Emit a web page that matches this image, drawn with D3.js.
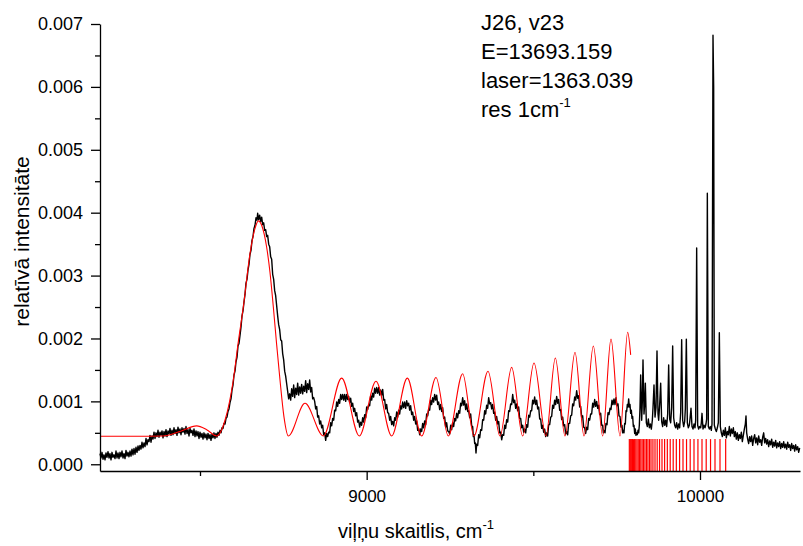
<!DOCTYPE html>
<html><head><meta charset="utf-8">
<script src="https://cdn.jsdelivr.net/npm/d3@7"></script>
<style>
body{margin:0;background:#fff}
text{font-family:"Liberation Sans",Arial,Helvetica,sans-serif;fill:#000}
</style>
</head><body>
<svg id="chart" width="803" height="546"></svg>
<script>
// ---- data (intensity values in units of 1e-5) ----
const xMajorTicks = [9000, 10000];
const xMinorTicks = [8500, 9500];
const yMajorTicks = [0, 0.001, 0.002, 0.003, 0.004, 0.005, 0.006, 0.007];
const yMinorTicks = [0.0005, 0.0015, 0.0025, 0.0035, 0.0045, 0.0055, 0.0065];
const annotationLines = ["J26, v23", "E=13693.159", "laser=1363.039", "res 1cm"];
const xTitle = "viļņu skaitlis, cm";
const yTitle = "relatīvā intensitāte";

// measured spectrum: flat list of wavenumber, intensity(1e-5) pairs
const spectrum = [
8200,17, 8203,10, 8206,19, 8209,8, 8212,15, 8215,7, 8218,18, 8221,11, 8224,20, 8227,10,
8230,17, 8233,7, 8236,19, 8239,11, 8242,15, 8245,9, 8248,21, 8251,10, 8254,18, 8257,9,
8260,19, 8263,12, 8266,21, 8269,10, 8272,17, 8275,9, 8278,22, 8281,13, 8284,19, 8287,12,
8290,21, 8293,13, 8296,24, 8299,15, 8302,25, 8305,16, 8308,27, 8311,19, 8314,29, 8317,22,
8320,30, 8323,24, 8326,35, 8329,26, 8332,34, 8335,28, 8338,41, 8341,31, 8344,39, 8347,36,
8350,46, 8353,35, 8356,45, 8359,40, 8362,51, 8365,41, 8368,50, 8371,44, 8374,54, 8377,43,
8380,51, 8383,46, 8386,53, 8389,42, 8392,52, 8395,45, 8398,55, 8401,44, 8404,53, 8407,48,
8410,57, 8413,46, 8416,54, 8419,47, 8422,58, 8425,49, 8428,55, 8431,46, 8434,59, 8437,50,
8440,56, 8443,47, 8446,58, 8449,51, 8452,57, 8455,48, 8458,60, 8461,49, 8464,55, 8467,45,
8470,57, 8473,50, 8476,54, 8479,46, 8482,56, 8485,44, 8488,53, 8491,45, 8494,52, 8497,41,
8500,51, 8503,43, 8506,49, 8509,40, 8512,50, 8515,42, 8518,48, 8521,39, 8524,49, 8527,41,
8530,47, 8533,38, 8536,48, 8539,42, 8542,50, 8545,41, 8548,49, 8551,43, 8554,51, 8557,46,
8560,54, 8563,50, 8566,58, 8569,57, 8572,65, 8575,64, 8578,73, 8581,75, 8584,84, 8587,88,
8590,98, 8593,104, 8596,118, 8599,126, 8602,142, 8605,148, 8608,163, 8611,170, 8614,188, 8617,192,
8620,205, 8623,218, 8626,236, 8629,244, 8632,258, 8635,270, 8638,288, 8641,294, 8644,309, 8647,318,
8650,334, 8653,340, 8656,356, 8659,362, 8662,375, 8665,380, 8668,392, 8671,388, 8673,399, 8676,389,
8679,396, 8682,386, 8685,393, 8688,381, 8691,384, 8694,372, 8697,373, 8700,362, 8703,364, 8706,350,
8709,346, 8712,330, 8715,326, 8718,302, 8721,294, 8724,276, 8727,268, 8730,252, 8733,236, 8736,222,
8739,214, 8742,198, 8745,196, 8748,176, 8751,166, 8754,148, 8757,140, 8760,128, 8763,116, 8766,104,
8769,112, 8772,102, 8775,120, 8778,108, 8781,126, 8784,106, 8787,121, 8790,111, 8793,129, 8796,110,
8799,123, 8802,113, 8805,127, 8808,112, 8811,124, 8814,116, 8817,133, 8820,114, 8823,128, 8826,119,
8829,134, 8832,115, 8835,122, 8838,104, 8841,106, 8844,100, 8847,88, 8850,92, 8853,75, 8856,77,
8859,64, 8862,69, 8865,58, 8868,62, 8871,47, 8874,50, 8877,38, 8880,49, 8883,44, 8886,51,
8889,50, 8892,66, 8895,61, 8898,73, 8901,70, 8904,86, 8907,85, 8910,99, 8913,92, 8916,103,
8919,97, 8922,111, 8925,103, 8928,111, 8931,102, 8934,111, 8937,100, 8940,111, 8943,103, 8946,108,
8949,98, 8952,105, 8955,92, 8958,97, 8961,84, 8964,89, 8967,77, 8970,82, 8973,67, 8976,70,
8979,59, 8982,67, 8985,62, 8988,74, 8991,67, 8994,79, 8997,74, 9000,91, 9003,87, 9006,95,
9009,93, 9012,109, 9015,102, 9018,113, 9021,107, 9024,121, 9027,113, 9030,122, 9033,113, 9036,122,
9039,110, 9042,118, 9045,110, 9048,119, 9051,102, 9054,103, 9057,88, 9060,95, 9063,82, 9066,81,
9069,70, 9072,76, 9075,63, 9078,68, 9081,61, 9084,74, 9087,70, 9090,83, 9093,75, 9096,86,
9099,80, 9102,93, 9105,88, 9108,99, 9111,90, 9114,99, 9117,89, 9120,101, 9123,93, 9126,97,
9129,86, 9132,93, 9135,79, 9138,83, 9141,70, 9144,76, 9147,64, 9150,69, 9153,54, 9156,57,
9159,47, 9162,56, 9165,52, 9168,65, 9171,58, 9174,69, 9177,63, 9180,80, 9183,77, 9186,87,
9189,86, 9192,102, 9195,95, 9198,106, 9201,99, 9204,111, 9207,102, 9210,110, 9213,95, 9216,99,
9219,87, 9222,95, 9225,84, 9228,90, 9231,73, 9234,75, 9237,59, 9240,66, 9243,53, 9246,52,
9249,48, 9252,62, 9255,55, 9258,66, 9261,60, 9264,73, 9267,69, 9270,81, 9273,74, 9276,85,
9279,81, 9282,97, 9285,93, 9288,106, 9291,94, 9294,101, 9297,87, 9300,96, 9303,84, 9306,85,
9309,74, 9312,80, 9315,61, 9318,60, 9320,44, 9322,47, 9324,33, 9326,34, 9328,18, 9330,32,
9333,30, 9336,47, 9339,42, 9342,55, 9345,54, 9348,71, 9351,70, 9354,85, 9357,80, 9360,94,
9363,89, 9366,106, 9369,96, 9372,98, 9375,88, 9378,95, 9381,81, 9384,83, 9387,70, 9390,76,
9393,64, 9396,68, 9399,50, 9402,51, 9405,39, 9408,47, 9411,46, 9414,62, 9417,57, 9420,71,
9423,67, 9426,85, 9429,84, 9432,96, 9435,95, 9438,111, 9441,98, 9444,102, 9447,89, 9450,96,
9453,85, 9456,91, 9459,73, 9462,73, 9465,58, 9468,62, 9471,51, 9474,56, 9477,50, 9480,63,
9483,59, 9486,78, 9489,75, 9492,85, 9495,85, 9498,102, 9501,96, 9504,107, 9507,95, 9510,102,
9513,88, 9516,91, 9519,72, 9522,72, 9525,57, 9528,62, 9531,51, 9534,56, 9537,44, 9540,50,
9543,45, 9546,63, 9549,63, 9552,75, 9555,76, 9558,94, 9561,89, 9564,102, 9567,95, 9570,108,
9573,97, 9576,103, 9579,86, 9582,87, 9585,71, 9588,75, 9591,61, 9594,63, 9597,48, 9600,52,
9603,47, 9606,65, 9609,65, 9612,77, 9615,78, 9618,96, 9621,93, 9624,107, 9627,102, 9630,117,
9633,105, 9636,109, 9639,91, 9642,92, 9645,75, 9648,77, 9651,59, 9654,58, 9657,49, 9660,59,
9663,55, 9666,73, 9669,70, 9672,80, 9675,80, 9678,97, 9681,91, 9684,103, 9687,92, 9690,100,
9693,89, 9696,94, 9699,79, 9702,81, 9705,62, 9708,62, 9710,50, 9712,54, 9715,50, 9718,65,
9721,63, 9724,82, 9727,79, 9730,89, 9733,87, 9736,102, 9739,95, 9742,104, 9745,95, 9748,106,
9751,93, 9754,96, 9757,77, 9760,76, 9763,59, 9766,62, 9768,50, 9770,54, 9772,50, 9774,65,
9776,64, 9778,85, 9780,84, 9782,95, 9784,91, 9786,104, 9788,91, 9790,95, 9792,81, 9794,86,
9796,73, 9798,76, 9800,60, 9802,62, 9804,49, 9806,56, 9808,46, 9810,50, 9812,47, 9814,54,
9816,50, 9818,62, 9820,90, 9822,142, 9825,70, 9827,100, 9829,166, 9832,80, 9834,95, 9836,129,
9839,66, 9842,60, 9845,72, 9848,58, 9851,64, 9854,56, 9857,70, 9859,90, 9862,126, 9865,75,
9868,90, 9871,180, 9874,80, 9876,70, 9879,95, 9882,129, 9885,68, 9888,60, 9891,74, 9894,62,
9897,70, 9900,60, 9903,80, 9906,158, 9909,72, 9912,66, 9915,90, 9918,188, 9921,74, 9924,62,
9927,58, 9930,66, 9933,56, 9936,64, 9939,58, 9942,82, 9945,198, 9948,70, 9951,60, 9954,68,
9956,88, 9959,199, 9962,66, 9965,58, 9968,62, 9970,72, 9973,89, 9976,60, 9979,56, 9982,64,
9985,58, 9987,70, 9990,344, 9993,62, 9996,56, 9999,60, 10002,58, 10004,66, 10006,81, 10009,56,
10012,62, 10015,58, 10018,64, 10020,72, 10022,431, 10025,60, 10028,56, 10031,60, 10034,54, 10036,64,
10039,682, 10041,600, 10043,62, 10046,56, 10049,52, 10052,58, 10055,66, 10058,209, 10061,60, 10064,50,
10067,44, 10070,54, 10073,46, 10076,58, 10079,42, 10082,52, 10085,47, 10088,60, 10091,45, 10094,56,
10097,49, 10100,58, 10103,44, 10106,52, 10109,40, 10112,50, 10115,38, 10118,47, 10121,41, 10124,51,
10127,36, 10130,46, 10133,56, 10136,64, 10138,77, 10140,50, 10143,40, 10146,33, 10149,44, 10152,36,
10155,45, 10158,30, 10161,41, 10164,47, 10167,34, 10170,42, 10173,31, 10176,45, 10179,35, 10182,39,
10185,30, 10188,43, 10191,50, 10194,34, 10197,41, 10200,32, 10203,39, 10206,28, 10209,37, 10212,31,
10215,40, 10218,27, 10221,35, 10224,29, 10227,38, 10230,26, 10233,34, 10236,28, 10239,36, 10242,25,
10245,33, 10248,27, 10251,36, 10254,26, 10257,32, 10260,24, 10263,35, 10266,27, 10269,31, 10272,22,
10275,33, 10278,25, 10281,30, 10284,21, 10287,31, 10290,23, 10293,28, 10296,19, 10299,26
];

// fitted curve (red): wavenumber / intensity(1e-5)
const fitX = [8200, 8300, 8389, 8440, 8490, 8520, 8550, 8575, 8600, 8615, 8630, 8650, 8665, 8675, 8685,
  8700, 8710, 8720, 8730, 8740, 8752, 8765, 8815, 8870, 8925, 8978, 9028, 9075, 9122, 9165, 9208,
  9245, 9288, 9322, 9364, 9400, 9435, 9468, 9502, 9538, 9566, 9595, 9625, 9652, 9680, 9708, 9733,
  9760, 9783, 9792];
const fitY = [44.5, 44.5, 45, 52, 61, 55, 45, 70, 134, 195, 250, 335, 375, 387, 380,
  345, 305, 250, 190, 134, 75, 45, 97, 45, 137, 45, 132, 45, 137, 45, 138,
  45, 144, 45, 148, 45, 154, 45, 161, 45, 169, 45, 178, 45, 188, 45, 199,
  45, 210, 174];

// calculated line positions (red sticks), top value 1e-5 units
const stickX = [9788, 9791, 9794, 9797.2, 9800.5, 9803.9, 9807.4, 9811, 9814.7, 9818.5, 9822.4, 9826.4,
  9830.5, 9834.8, 9839.2, 9843.7, 9848.3, 9853, 9858.8, 9865, 9871.6, 9878.6, 9886, 9893.8, 9902,
  9910.6, 9919.6, 9929, 9938.8, 9949, 9959.6, 9970.6, 9982, 9993.8, 10006, 10018.6, 10031.6, 10045,
  10060, 10077];
const stickTop = 40;

// ---- drawing ----
const E5 = 1e-5;
const svg = d3.select("#chart");
const x = d3.scaleLinear().domain([8200, 10300]).range([100, 800]);
const y = d3.scaleLinear().domain([-0.000107, 0.007]).range([471, 24]);

const specPts = d3.range(0, spectrum.length, 2).map(i => [spectrum[i], spectrum[i + 1] * E5]);
const fitPts = fitX.map((v, i) => [v, fitY[i] * E5]);

// sticks
svg.append("g").selectAll("line").data(stickX).join("line")
  .attr("x1", d => x(d)).attr("x2", d => x(d))
  .attr("y1", y(y.domain()[0])).attr("y2", y(stickTop * E5))
  .attr("stroke", "#ff0000").attr("stroke-width", 1.2);

// spectrum
svg.append("path").datum(specPts)
  .attr("fill", "none").attr("stroke", "#000").attr("stroke-width", 1.4)
  .attr("stroke-linejoin", "round")
  .attr("d", d3.line().x(d => x(d[0])).y(d => y(d[1])));

// fit
svg.append("path").datum(fitPts)
  .attr("fill", "none").attr("stroke", "#ff0000").attr("stroke-width", 1.1)
  .attr("d", d3.line().curve(d3.curveMonotoneX).x(d => x(d[0])).y(d => y(d[1])));

// axes
const xAxisG = svg.append("g").attr("transform", "translate(0,471)");
xAxisG.call(d3.axisBottom(x).tickValues(xMajorTicks).tickSize(9).tickSizeOuter(0).tickPadding(10).tickFormat(d3.format("d")));
xAxisG.append("g").call(d3.axisBottom(x).tickValues(xMinorTicks).tickSize(5).tickSizeOuter(0).tickFormat(""))
  .select(".domain").remove();
xAxisG.selectAll("text").attr("font-size", 17).style("font-family", '"Liberation Sans",Arial,sans-serif');

const yAxisG = svg.append("g").attr("transform", "translate(100,0)");
yAxisG.call(d3.axisLeft(y).tickValues(yMajorTicks).tickSize(9).tickSizeOuter(0).tickPadding(8).tickFormat(d3.format(".3f")));
yAxisG.append("g").call(d3.axisLeft(y).tickValues(yMinorTicks).tickSize(5).tickSizeOuter(0).tickFormat(""))
  .select(".domain").remove();
yAxisG.selectAll("text").attr("font-size", 18).style("font-family", '"Liberation Sans",Arial,sans-serif');
svg.selectAll(".domain, .tick line").attr("stroke", "#000").attr("stroke-width", 1.3);

// titles
const xt = svg.append("text").attr("x", 338).attr("y", 538).attr("font-size", 20);
xt.append("tspan").text(xTitle);
xt.append("tspan").attr("dy", -9).attr("font-size", 13).text("-1");

svg.append("text").attr("transform", "translate(29,241.5) rotate(-90)")
  .attr("text-anchor", "middle").attr("font-size", 21).text(yTitle);

// annotation
const annY = [30, 59, 88, 117];
annotationLines.forEach((t, i) => {
  const tx = svg.append("text").attr("x", 481).attr("y", annY[i]).attr("font-size", 22);
  tx.append("tspan").text(t);
  if (i === annotationLines.length - 1) tx.append("tspan").attr("dy", -10).attr("font-size", 13).text("-1");
});
</script>
</body></html>
